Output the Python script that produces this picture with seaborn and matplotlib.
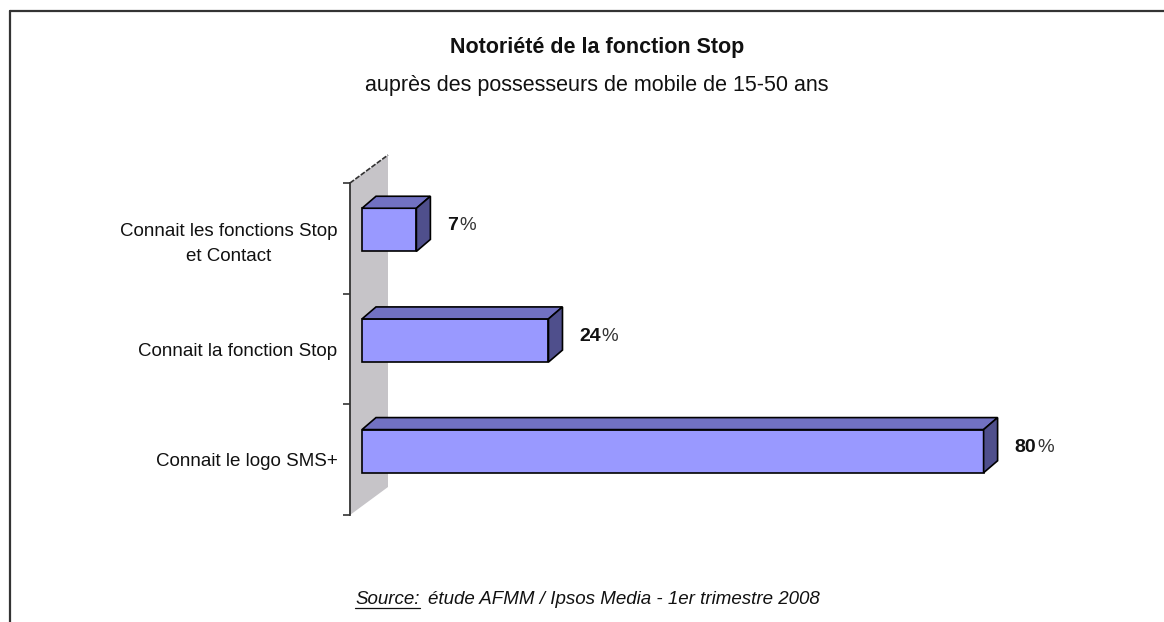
import matplotlib
matplotlib.use("Agg")
import matplotlib.pyplot as plt
from matplotlib.patches import Polygon
from matplotlib.lines import Line2D
import seaborn as sns

# --- données ---
categories = ["Connait les fonctions Stop\net Contact",
              "Connait la fonction Stop",
              "Connait le logo SMS+"]
valeurs = [7, 24, 80]

titre = "Notoriété de la fonction Stop"
sous_titre = "auprès des possesseurs de mobile de 15-50 ans"
source_lbl = "Source:"
source_txt = "étude AFMM / Ipsos Media - 1er trimestre 2008"

# --- style ---
sns.set_theme(style="white")
plt.rcParams['font.family'] = ['Liberation Sans', 'DejaVu Sans']

W, H = 1164, 622
fig = plt.figure(figsize=(W / 100, H / 100), dpi=100)
# axe : de x=350 à 1100 px, de y=183 à 515 px
ax = fig.add_axes([350 / W, 1 - 515 / H, 750 / W, 332 / H])

sns.barplot(x=valeurs, y=categories, orient="h", color="#9999FF",
            saturation=1, width=0.39, edgecolor="black", linewidth=1.2, ax=ax)

px_per_pct = 7.77
xmin = -12 / px_per_pct
ax.set_xlim(xmin, xmin + 750 / px_per_pct)
ax.set_ylim(2.5, -0.5)
px_per_cat = 332 / 3

def dx(px):
    return px / px_per_pct

def dy(px):
    return px / px_per_cat

# décalage vers le haut des faces avant (effet 3D)
for p in ax.patches:
    p.set_y(p.get_y() - dy(8.5))

# --- mur gris ---
mur = Polygon([(xmin, -0.5), (xmin + dx(38), -0.5 - dy(28)),
               (xmin + dx(38), 2.5 - dy(28)), (xmin, 2.5)],
              closed=True, facecolor="#C6C4C8", edgecolor="none",
              clip_on=False, zorder=0)
ax.add_patch(mur)
ax.plot([xmin, xmin + dx(38)], [-0.5, -0.5 - dy(28)], color="#333333",
        lw=1.2, ls=(0, (3, 1)), clip_on=False, zorder=1)

# --- faces du dessus et de côté ---
prof_x, prof_y = dx(14), dy(12)
for p, v in zip(ax.patches[:len(valeurs)], valeurs):
    x0, x1 = p.get_x(), p.get_x() + p.get_width()
    ytop, ybot = p.get_y(), p.get_y() + p.get_height()
    dessus = Polygon([(x0, ytop), (x1, ytop), (x1 + prof_x, ytop - prof_y),
                      (x0 + prof_x, ytop - prof_y)], closed=True,
                     facecolor="#7171C2", edgecolor="black", lw=1.2, zorder=3)
    cote = Polygon([(x1, ytop), (x1 + prof_x, ytop - prof_y),
                    (x1 + prof_x, ybot - prof_y), (x1, ybot)], closed=True,
                   facecolor="#4F4F8C", edgecolor="black", lw=1.2, zorder=3)
    ax.add_patch(dessus)
    ax.add_patch(cote)
    t = ax.text(x1 + prof_x + dx(17), (ytop + ybot) / 2 - dy(4), str(v),
                fontsize=14, fontweight="bold", va="center", ha="left",
                color="#111111")
    ax.annotate("%", xy=(1, 0), xycoords=t, xytext=(0.5, 0),
                textcoords="offset points", fontsize=13.5, va="bottom",
                ha="left", color="#333333")

# --- axes ---
for s in ["top", "right", "bottom"]:
    ax.spines[s].set_visible(False)
ax.spines["left"].set_color("#333333")
ax.spines["left"].set_linewidth(1.3)
ax.set_xticks([])
ax.set_yticks([-0.5, 0.5, 1.5, 2.5], minor=True)
ax.tick_params(axis="y", which="minor", length=5, width=1.2,
               color="#333333", left=True)
ax.tick_params(axis="y", which="major", length=0, pad=9, labelsize=13.5,
               labelcolor="#111111")
for lbl in ax.get_yticklabels():
    lbl.set_multialignment("center")
    lbl.set_linespacing(1.6)
ax.set_xlabel("")
ax.set_ylabel("")

# --- titres ---
fig.text(597 / W, 1 - 48 / H, titre, fontsize=15.5, fontweight="bold",
         ha="center", va="center", color="#111111")
fig.text(597 / W, 1 - 86 / H, sous_titre, fontsize=15.5,
         ha="center", va="center", color="#111111")

# --- source ---
s1 = fig.text(355 / W, 1 - 600 / H, source_lbl, fontsize=13.5, style="italic",
              ha="left", va="center", color="#111111")
fig.canvas.draw()
bb = s1.get_window_extent()
fig.text((bb.x1 + 8) / W, 1 - 600 / H, source_txt, fontsize=13.5,
         style="italic", ha="left", va="center", color="#111111")
fig.add_artist(Line2D([bb.x0 / W, bb.x1 / W], [(bb.y0 + 1) / H, (bb.y0 + 1) / H],
                      color="#111111", lw=0.9))

# --- cadre ---
fig.add_artist(Line2D([10 / W, 10 / W], [0, 1 - 11 / H], color="#333333", lw=1.6))
fig.add_artist(Line2D([10 / W, 1], [1 - 11 / H, 1 - 11 / H], color="#333333", lw=1.6))

fig.savefig("out.png", dpi=100, facecolor="white")
plt.close(fig)
